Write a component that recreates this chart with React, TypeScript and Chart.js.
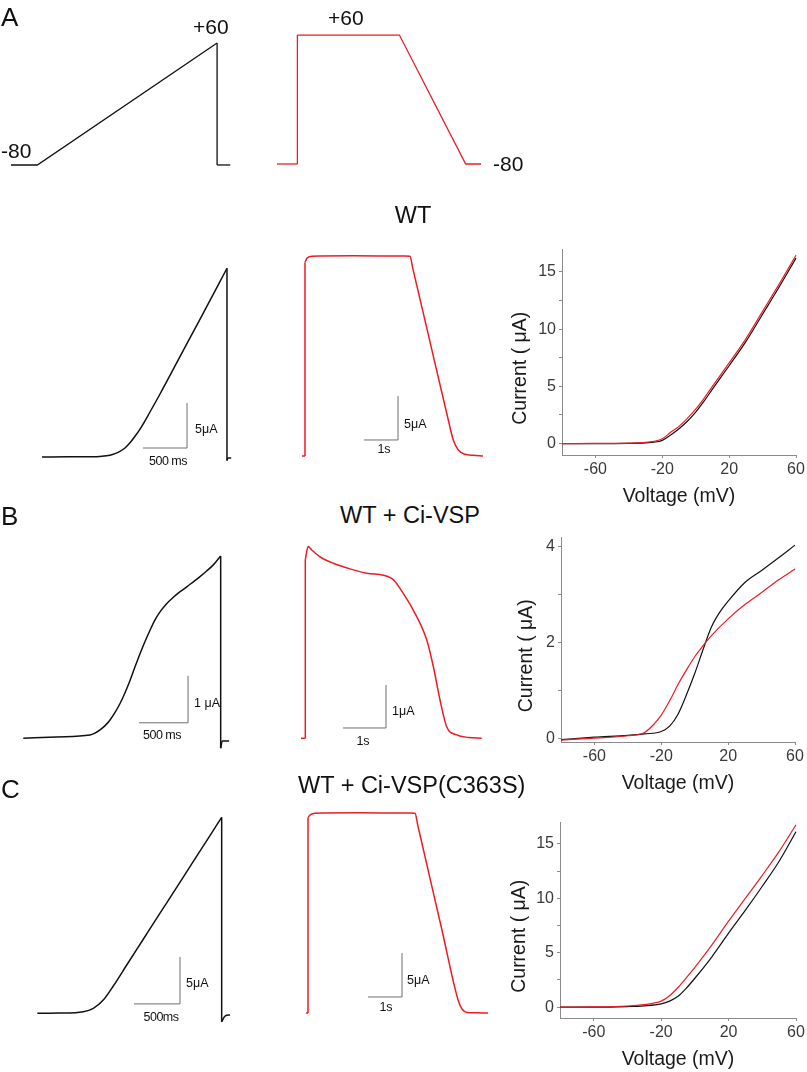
import React, { useEffect, useRef } from "react";
import { Chart, registerables } from "chart.js";

Chart.register(...registerables);

// ---------------- data ----------------
// Voltage protocols (time ms, voltage mV)
const protoRampT = [0, 300, 2350, 2350, 2500];
const protoRampV = [-80, -80, 60, -80, -80];
const protoStepT = [0, 600, 600, 3600, 5550, 6000];
const protoStepV = [-80, -80, 60, 60, -80, -80];

// WT current traces (time ms, current µA)
const wtRampT = [0, 300, 600, 659, 773, 830, 886, 943, 1000, 1057, 1114, 1227, 1341, 1568, 1795, 2102, 2102, 2112, 2150];
const wtRampI = [0, 0.02, 0.02, 0.06, 0.2, 0.37, 0.63, 1.0, 1.58, 2.3, 3.1, 5.0, 7.0, 11.15, 15.3, 20.97, -0.4, -0.1, -0.1];
const wtStepT = [0, 88, 88, 150, 300, 1500, 3000, 3176, 3260, 3700, 4303, 4450, 4597, 4794, 5039, 5324];
const wtStepI = [0, 0, 22.0, 22.5, 22.7, 22.75, 22.72, 22.7, 21.3, 14.05, 4.09, 1.82, 0.68, 0.19, 0.08, 0];

// WT + Ci-VSP current traces
const vspRampT = [0, 340, 680, 730, 783, 835, 885, 936, 987, 1038, 1089, 1140, 1191, 1242, 1293, 1344, 1395, 1460, 1531, 1600, 1667, 1735, 1803, 1871, 1939, 2014, 2014, 2030, 2100];
const vspRampI = [0, 0.03, 0.07, 0.11, 0.18, 0.27, 0.39, 0.55, 0.74, 0.97, 1.23, 1.52, 1.8, 2.06, 2.3, 2.52, 2.69, 2.86, 3.0, 3.12, 3.22, 3.33, 3.44, 3.56, 3.69, 3.88, -0.21, -0.06, -0.06];
const vspStepT = [0, 100, 100, 165, 249, 442, 751, 1140, 1528, 2109, 2379, 2691, 2923, 3077, 3233, 3388, 3621, 3900, 4202];
const vspStepI = [0, 0, 4.15, 4.46, 4.38, 4.22, 4.07, 3.94, 3.84, 3.72, 3.37, 2.83, 2.29, 1.67, 0.89, 0.27, 0.08, 0.02, 0];

// WT + Ci-VSP(C363S) current traces
const csRampT = [0, 250, 500, 609, 717, 826, 972, 1152, 1334, 1515, 1696, 1877, 2004, 2004, 2040, 2095];
const csRampI = [0, 0.02, 0.17, 0.53, 1.41, 2.9, 5.14, 7.88, 10.65, 13.4, 16.16, 18.9, 20.85, -0.9, -0.29, -0.18];
const csStepT = [0, 59, 59, 118, 265, 1500, 3050, 3206, 3290, 3600, 4000, 4471, 4588, 4735, 5000, 5353];
const csStepI = [0, 0, 22.2, 22.5, 22.7, 22.75, 22.72, 22.7, 21.3, 16.1, 9.4, 1.5, 0.45, 0.06, 0.02, 0];

// I-V curves (voltage mV, current µA)
const ivWtBlackV = [-80, -60, -40, -30, -25, -20, -15, -10, -5, 0, 5, 10, 20, 30, 40, 50, 60];
const ivWtBlackI = [0, 0, 0.02, 0.06, 0.12, 0.28, 0.75, 1.3, 1.95, 2.75, 3.7, 4.75, 6.8, 8.9, 11.3, 13.7, 16.2];
const ivWtRedV = [-80, -60, -40, -30, -25, -20, -15, -10, -5, 0, 5, 10, 20, 30, 40, 50, 60];
const ivWtRedI = [0, 0.01, 0.04, 0.1, 0.2, 0.42, 0.98, 1.5, 2.2, 3.0, 3.95, 5.0, 7.05, 9.15, 11.55, 13.95, 16.45];

const ivVspBlackV = [-80, -60, -40, -30, -20, -15, -10, -5, 0, 5, 10, 15, 20, 30, 40, 50, 60];
const ivVspBlackI = [-0.03, 0.02, 0.06, 0.09, 0.14, 0.25, 0.5, 0.9, 1.35, 1.85, 2.32, 2.63, 2.86, 3.25, 3.5, 3.76, 4.03];
const ivVspRedV = [-80, -60, -40, -30, -25, -20, -15, -10, -5, 0, 5, 10, 20, 30, 40, 50, 60];
const ivVspRedI = [-0.04, 0.0, 0.05, 0.12, 0.27, 0.48, 0.78, 1.12, 1.42, 1.7, 1.93, 2.14, 2.49, 2.79, 3.04, 3.3, 3.53];

const ivCsBlackV = [-80, -60, -40, -30, -20, -15, -10, -5, 0, 10, 20, 30, 40, 50, 60];
const ivCsBlackI = [0, 0, 0.05, 0.12, 0.3, 0.55, 1.0, 1.75, 2.65, 4.6, 6.8, 8.9, 11.1, 13.4, 16.1];
const ivCsRedV = [-80, -60, -40, -30, -25, -20, -15, -10, -5, 0, 10, 20, 30, 40, 50, 60];
const ivCsRedI = [0, 0.02, 0.1, 0.22, 0.35, 0.55, 1.05, 1.8, 2.7, 3.65, 5.7, 7.9, 10.0, 12.1, 14.3, 16.75];

// tick labels
const ivTicksX = [-60, -20, 20, 60];
const ivMajorY15 = [0, 5, 10, 15];
const ivMinorY15 = [2.5, 7.5, 12.5];
const ivMajorY4 = [0, 2, 4];
const ivMinorY4 = [1, 3];

// ---------------- styles ----------------
const FONT = "'Liberation Sans', Arial, Helvetica, sans-serif";
const NARROW = "'Liberation Sans Narrow', 'Liberation Sans', Arial, sans-serif";
const BLACK = "#111111";
const RED = "#ec1c24";
const BAR = "#6e6e6e";
const AXIS = "#8a8a8a";
const TICK = "#3a3a3a";

type Rect = { left: number; top: number; width: number; height: number };
type PxMap = { x0: number; sx: number; y0: number; sy: number };
type Bar = { t: number; i: number; dt: number; di: number };

function splitRuns(t: number[], v: number[]) {
  const runs: { x: number; y: number }[][] = [];
  const jumps: { x: number; y: number }[][] = [];
  let cur = [{ x: t[0], y: v[0] }];
  for (let k = 1; k < t.length; k++) {
    const p = { x: t[k], y: v[k] };
    if (t[k] === t[k - 1]) {
      jumps.push([{ x: t[k - 1], y: v[k - 1] }, p]);
      if (cur.length > 1) runs.push(cur);
      cur = [p];
    } else cur.push(p);
  }
  if (cur.length > 1) runs.push(cur);
  return { runs, jumps };
}

const baseOpts = {
  animation: false,
  responsive: false,
  events: [] as string[],
  plugins: { legend: { display: false }, tooltip: { enabled: false } },
};

function traceConfig(rect: Rect, m: PxMap, t: number[], v: number[], color: string, width: number, smooth: boolean, bar?: Bar): any {
  const { runs, jumps } = splitRuns(t, v);
  const line = (data: any[], c: string, w: number, s: boolean) => ({
    data,
    borderColor: c,
    borderWidth: w,
    pointRadius: 0,
    fill: false,
    tension: 0,
    cubicInterpolationMode: s ? "monotone" : "default",
    clip: false,
  });
  const datasets: any[] = [];
  runs.forEach((r) => datasets.push(line(r, color, width, smooth)));
  jumps.forEach((j) => datasets.push(line(j, color, width, false)));
  if (bar) {
    datasets.push(
      line(
        [
          { x: bar.t - bar.dt, y: bar.i },
          { x: bar.t, y: bar.i },
          { x: bar.t, y: bar.i + bar.di },
        ],
        BAR,
        1,
        false
      )
    );
  }
  return {
    type: "line",
    data: { datasets },
    options: {
      ...baseOpts,
      layout: { padding: 0 },
      scales: {
        x: { type: "linear", display: false, min: (rect.left - m.x0) / m.sx, max: (rect.left + rect.width - m.x0) / m.sx },
        y: { type: "linear", display: false, max: (m.y0 - rect.top) / m.sy, min: (m.y0 - rect.top - rect.height) / m.sy },
      },
    },
  };
}

type IVSpec = {
  yMin: number;
  yMax: number;
  yMajor: number[];
  yMinor: number[];
  yAxisWidth: number;
  padTop: number;
  padRight: number;
  yTitlePad: number;
  blackV: number[];
  blackI: number[];
  redV: number[];
  redI: number[];
};

function ivConfig(s: IVSpec): any {
  const pts = (a: number[], b: number[]) => a.map((x, k) => ({ x, y: b[k] }));
  const yVals = [...s.yMajor, ...s.yMinor].sort((a, b) => a - b);
  const curve = (data: any[], c: string) => ({
    data,
    borderColor: c,
    borderWidth: 1.2,
    pointRadius: 0,
    fill: false,
    cubicInterpolationMode: "monotone",
    clip: false,
  });
  const grid = { drawOnChartArea: false, drawTicks: true, tickLength: 3, color: AXIS, lineWidth: 1 };
  const border = { display: true, color: AXIS, width: 1 };
  return {
    type: "line",
    data: { datasets: [curve(pts(s.redV, s.redI), RED), curve(pts(s.blackV, s.blackI), BLACK)] },
    options: {
      ...baseOpts,
      layout: { padding: { top: s.padTop, right: s.padRight, left: 0, bottom: 0 } },
      scales: {
        x: {
          type: "linear",
          min: -80,
          max: 60,
          afterBuildTicks: (sc: any) => {
            sc.ticks = ivTicksX.map((v) => ({ value: v }));
          },
          afterFit: (sc: any) => {
            sc.height = 54;
          },
          grid,
          border,
          ticks: { color: TICK, font: { family: FONT, size: 16 }, padding: 2, maxRotation: 0, minRotation: 0, autoSkip: false },
          title: { display: true, text: "Voltage (mV)", color: "#1a1a1a", font: { family: FONT, size: 19.5 }, padding: { top: 0, bottom: 1 } },
        },
        y: {
          type: "linear",
          min: s.yMin,
          max: s.yMax,
          afterBuildTicks: (sc: any) => {
            sc.ticks = yVals.map((v) => ({ value: v }));
          },
          afterFit: (sc: any) => {
            sc.width = s.yAxisWidth;
          },
          grid,
          border,
          ticks: {
            color: TICK,
            font: { family: FONT, size: 16 },
            padding: 3,
            autoSkip: false,
            callback: (v: any) => (s.yMajor.includes(Number(v)) ? String(v) : ""),
          },
          title: {
            display: true,
            text: "Current ( \u03bcA)      ",
            color: "#1a1a1a",
            font: { family: FONT, size: 19.5 },
            padding: { top: s.yTitlePad, bottom: 0 },
          },
        },
      },
    },
  };
}

function ChartBox({ rect, make }: { rect: Rect; make: () => any }) {
  const ref = useRef<HTMLCanvasElement>(null);
  useEffect(() => {
    const chart = new Chart(ref.current as HTMLCanvasElement, make());
    return () => chart.destroy();
  }, []);
  return (
    <canvas
      ref={ref}
      width={rect.width}
      height={rect.height}
      style={{ position: "absolute", left: rect.left, top: rect.top, width: rect.width, height: rect.height }}
    />
  );
}

function Txt({
  x,
  y,
  size,
  children,
  center = false,
  family = FONT,
  color = "#111",
  spacing = 0,
}: {
  x: number;
  y: number;
  size: number;
  children: React.ReactNode;
  center?: boolean;
  family?: string;
  color?: string;
  spacing?: number;
}) {
  return (
    <div
      style={{
        position: "absolute",
        left: x,
        top: y,
        transform: center ? "translate(-50%, -50%)" : "translateY(-50%)",
        fontFamily: family,
        fontSize: size,
        lineHeight: 1,
        color,
        whiteSpace: "nowrap",
        letterSpacing: spacing,
      }}
    >
      {children}
    </div>
  );
}

// ---------------- layout ----------------
const R = {
  protoRamp: { left: 0, top: 20, width: 260, height: 170 },
  protoStep: { left: 262, top: 20, width: 238, height: 170 },
  wtRamp: { left: 0, top: 240, width: 260, height: 240 },
  wtStep: { left: 262, top: 240, width: 238, height: 240 },
  vspRamp: { left: 0, top: 530, width: 260, height: 230 },
  vspStep: { left: 262, top: 530, width: 238, height: 230 },
  csRamp: { left: 0, top: 800, width: 260, height: 240 },
  csStep: { left: 262, top: 800, width: 238, height: 240 },
  ivWt: { left: 490, top: 235, width: 317, height: 274 },
  ivVsp: { left: 490, top: 523, width: 317, height: 273 },
  ivCs: { left: 490, top: 808, width: 317, height: 264 },
};

const M = {
  protoRamp: { x0: 11, sx: 0.0877, y0: 95.3, sy: 0.871 },
  protoStep: { x0: 277, sx: 0.034, y0: 90.3, sy: 0.921 },
  wtRamp: { x0: 42, sx: 0.088, y0: 457, sy: 9 },
  wtStep: { x0: 302, sx: 0.034, y0: 456, sy: 8.8 },
  vspRamp: { x0: 23.3, sx: 0.098, y0: 738.3, sy: 47 },
  vspStep: { x0: 301, sx: 0.043, y0: 738.3, sy: 43 },
  csRamp: { x0: 37.3, sx: 0.092, y0: 1013.3, sy: 9.4 },
  csStep: { x0: 306, sx: 0.034, y0: 1013, sy: 8.8 },
};

export default function App() {
  const sl = 12.5;
  return (
    <div
      style={{
        position: "absolute",
        left: 0,
        top: 0,
        width: 807,
        height: 1072,
        background: "#ffffff",
        overflow: "hidden",
        fontFamily: FONT,
      }}
    >
      {/* protocols */}
      <ChartBox rect={R.protoRamp} make={() => traceConfig(R.protoRamp, M.protoRamp, protoRampT, protoRampV, BLACK, 1.3, false)} />
      <ChartBox rect={R.protoStep} make={() => traceConfig(R.protoStep, M.protoStep, protoStepT, protoStepV, RED, 1.3, false)} />

      {/* current traces */}
      <ChartBox rect={R.wtRamp} make={() => traceConfig(R.wtRamp, M.wtRamp, wtRampT, wtRampI, BLACK, 1.5, true, { t: 1648, i: 1.0, dt: 500, di: 5 })} />
      <ChartBox rect={R.wtStep} make={() => traceConfig(R.wtStep, M.wtStep, wtStepT, wtStepI, RED, 1.5, true, { t: 2824, i: 1.82, dt: 1000, di: 5 })} />
      <ChartBox rect={R.vspRamp} make={() => traceConfig(R.vspRamp, M.vspRamp, vspRampT, vspRampI, BLACK, 1.5, true, { t: 1681, i: 0.33, dt: 500, di: 1 })} />
      <ChartBox rect={R.vspStep} make={() => traceConfig(R.vspStep, M.vspStep, vspStepT, vspStepI, RED, 1.5, true, { t: 1977, i: 0.24, dt: 1000, di: 1 })} />
      <ChartBox rect={R.csRamp} make={() => traceConfig(R.csRamp, M.csRamp, csRampT, csRampI, BLACK, 1.5, true, { t: 1551, i: 1.0, dt: 500, di: 5 })} />
      <ChartBox rect={R.csStep} make={() => traceConfig(R.csStep, M.csStep, csStepT, csStepI, RED, 1.5, true, { t: 2824, i: 1.82, dt: 1000, di: 5 })} />

      {/* I-V plots */}
      <ChartBox
        rect={R.ivWt}
        make={() =>
          ivConfig({
            yMin: -1, yMax: 17, yMajor: ivMajorY15, yMinor: ivMinorY15, yAxisWidth: 72, padTop: 14, padRight: 11, yTitlePad: 19,
            blackV: ivWtBlackV, blackI: ivWtBlackI, redV: ivWtRedV, redI: ivWtRedI,
          })
        }
      />
      <ChartBox
        rect={R.ivVsp}
        make={() =>
          ivConfig({
            yMin: -0.08, yMax: 4.2, yMajor: ivMajorY4, yMinor: ivMinorY4, yAxisWidth: 71, padTop: 14, padRight: 12, yTitlePad: 25,
            blackV: ivVspBlackV, blackI: ivVspBlackI, redV: ivVspRedV, redI: ivVspRedI,
          })
        }
      />
      <ChartBox
        rect={R.ivCs}
        make={() =>
          ivConfig({
            yMin: -1, yMax: 17, yMajor: ivMajorY15, yMinor: ivMinorY15, yAxisWidth: 70, padTop: 14, padRight: 11, yTitlePad: 18,
            blackV: ivCsBlackV, blackI: ivCsBlackI, redV: ivCsRedV, redI: ivCsRedI,
          })
        }
      />

      {/* panel letters */}
      <Txt x={1} y={17} size={26}>A</Txt>
      <Txt x={1} y={516} size={26}>B</Txt>
      <Txt x={1} y={789} size={26}>C</Txt>

      {/* protocol labels */}
      <Txt x={193} y={26} size={21}>+60</Txt>
      <Txt x={1} y={150} size={21}>-80</Txt>
      <Txt x={328} y={17} size={21}>+60</Txt>
      <Txt x={493} y={163} size={21}>-80</Txt>

      {/* row titles */}
      <Txt x={413} y={216} size={23.5} center>WT</Txt>
      <Txt x={410} y={516} size={23.5} center>WT + Ci-VSP</Txt>
      <Txt x={298} y={786} size={23.5}>WT + Ci-VSP(C363S)</Txt>

      {/* scale bar labels */}
      <Txt x={195} y={429} size={sl} family={NARROW}>5{"\u03bc"}A</Txt>
      <Txt x={168} y={461} size={sl} family={NARROW} center spacing={-0.5}>500 ms</Txt>
      <Txt x={404} y={424} size={sl} family={NARROW}>5{"\u03bc"}A</Txt>
      <Txt x={384} y={449} size={sl} family={NARROW} center>1s</Txt>

      <Txt x={194} y={703} size={sl} family={NARROW}>1 {"\u03bc"}A</Txt>
      <Txt x={162} y={735} size={sl} family={NARROW} center spacing={-0.5}>500 ms</Txt>
      <Txt x={392} y={711} size={sl} family={NARROW}>1{"\u03bc"}A</Txt>
      <Txt x={363} y={741} size={sl} family={NARROW} center>1s</Txt>

      <Txt x={186} y={983} size={sl} family={NARROW}>5{"\u03bc"}A</Txt>
      <Txt x={161} y={1017} size={sl} family={NARROW} center spacing={-0.5}>500ms</Txt>
      <Txt x={407} y={980} size={sl} family={NARROW}>5{"\u03bc"}A</Txt>
      <Txt x={386} y={1007} size={sl} family={NARROW} center>1s</Txt>
    </div>
  );
}
